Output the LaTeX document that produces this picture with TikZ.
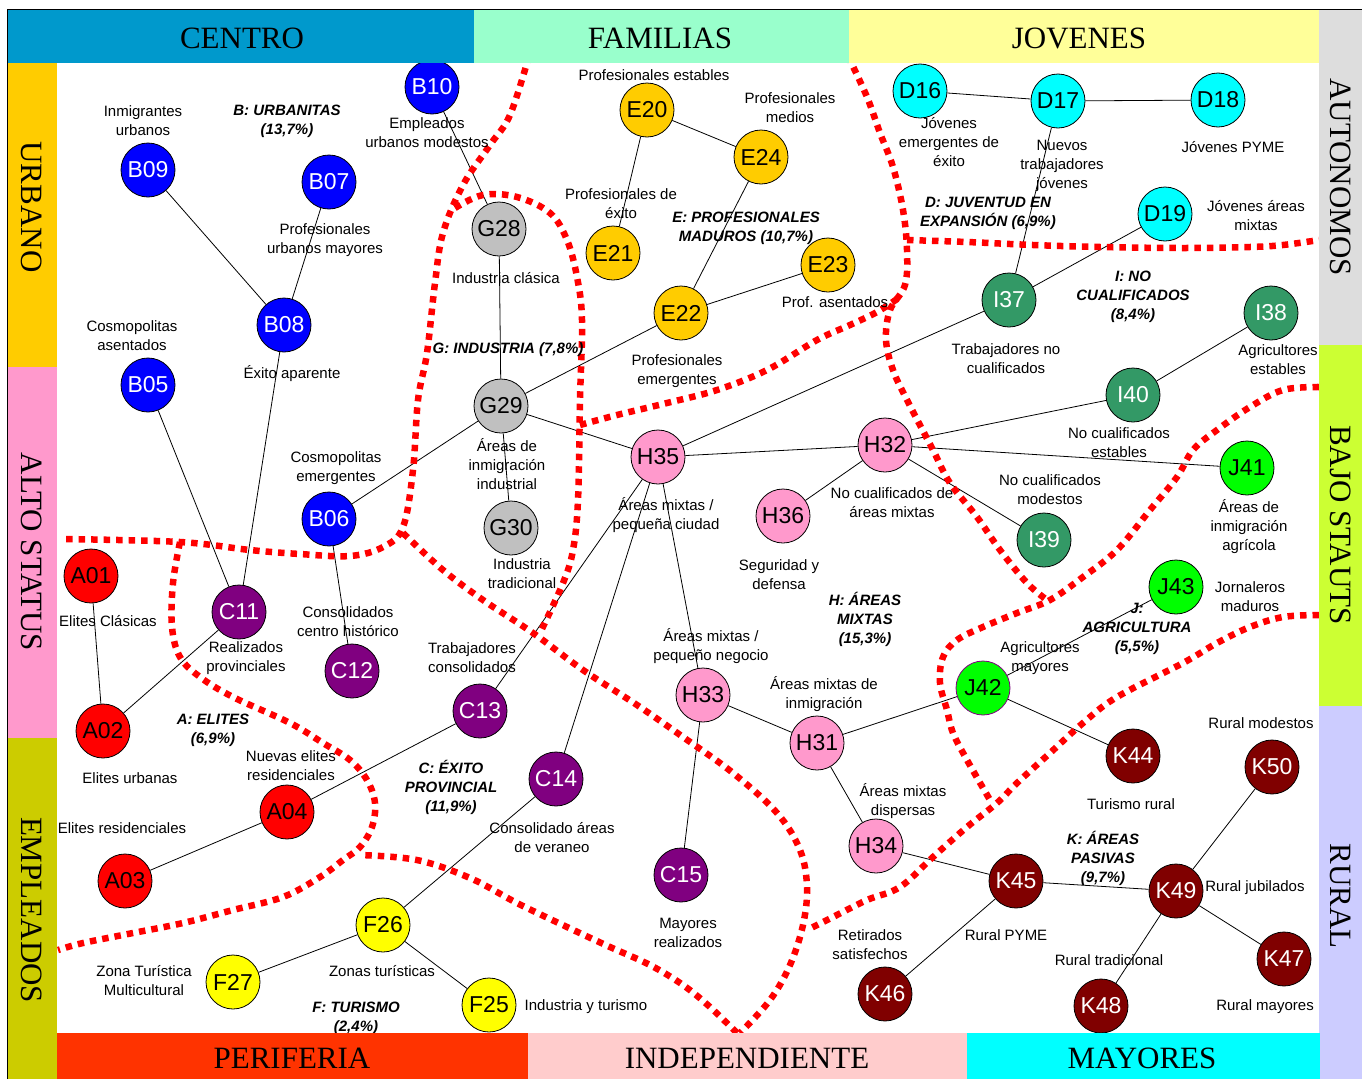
\documentclass[tikz,border=0pt]{standalone}
\usepackage{fontspec}
\setmainfont{Liberation Sans}
\newfontfamily\serifhdr{Liberation Serif}
\definecolor{cCentro}{HTML}{0099CC}
\definecolor{cFam}{HTML}{99FFCC}
\definecolor{cJov}{HTML}{FFFF99}
\definecolor{cAut}{HTML}{DDDDDD}
\definecolor{cBajo}{HTML}{CCFF33}
\definecolor{cRural}{HTML}{CCCCFF}
\definecolor{cUrb}{HTML}{FFCC00}
\definecolor{cAlto}{HTML}{FF99CC}
\definecolor{cEmp}{HTML}{CCCC00}
\definecolor{cPer}{HTML}{FF3300}
\definecolor{cInd}{HTML}{FFCCCC}
\definecolor{cMay}{HTML}{00FFFF}
\definecolor{colB}{HTML}{0000FF}
\definecolor{colG}{HTML}{C0C0C0}
\definecolor{colE}{HTML}{FFCC00}
\definecolor{colD}{HTML}{00FFFF}
\definecolor{colI}{HTML}{339966}
\definecolor{colJ}{HTML}{00FF00}
\definecolor{colH}{HTML}{FF99CC}
\definecolor{colA}{HTML}{FF0000}
\definecolor{colC}{HTML}{800080}
\definecolor{colF}{HTML}{FFFF00}
\definecolor{colK}{HTML}{800000}
\tikzset{
  seg/.style={circle, draw=black, line width=0.8pt, minimum size=54pt, inner sep=0pt, font=\fontsize{23}{23}\selectfont},
  nB/.style={seg, fill=colB, text=white},
  nG/.style={seg, fill=colG, text=black},
  nE/.style={seg, fill=colE, text=black},
  nD/.style={seg, fill=colD, text=black},
  nI/.style={seg, fill=colI, text=white},
  nJ/.style={seg, fill=colJ, text=black},
  nH/.style={seg, fill=colH, text=black},
  nA/.style={seg, fill=colA, text=black},
  nC/.style={seg, fill=colC, text=white},
  nF/.style={seg, fill=colF, text=black},
  nK/.style={seg, fill=colK, text=white},
  lbl/.style={align=center, font=\fontsize{15}{19}\selectfont, inner sep=0pt},
  grp/.style={align=center, font=\fontsize{15}{19}\selectfont\bfseries\itshape, inner sep=0pt},
  hdr/.style={font=\serifhdr\fontsize{31}{31}\selectfont, inner sep=0pt},
  conn/.style={line width=0.8pt},
  redb/.style={red, line width=6.5pt, dash pattern=on 6.5pt off 6pt},
}
\begin{document}
\begin{tikzpicture}[x=1pt, y=-1pt]
\useasboundingbox (0,0) rectangle (1362,1079);
\fill[white] (0,0) rectangle (1362,1079);

% nodes
\node[nB] (B10) at (432,87) {B10};
\node[nB] (B09) at (148,170) {B09};
\node[nB] (B07) at (329,182) {B07};
\node[nB] (B08) at (284,325) {B08};
\node[nB] (B05) at (148,385) {B05};
\node[nB] (B06) at (329,519) {B06};
\node[nG] (G28) at (499,229) {G28};
\node[nG] (G29) at (501,406) {G29};
\node[nG] (G30) at (511,528) {G30};
\node[nE] (E20) at (647,110) {E20};
\node[nE] (E24) at (761,157) {E24};
\node[nE] (E21) at (613,253) {E21};
\node[nE] (E23) at (828,265) {E23};
\node[nE] (E22) at (681,313) {E22};
\node[nD] (D16) at (920,91) {D16};
\node[nD] (D17) at (1058,101) {D17};
\node[nD] (D18) at (1218,100) {D18};
\node[nD] (D19) at (1165,214) {D19};
\node[nI] (I37) at (1009,300) {I37};
\node[nI] (I38) at (1271,313) {I38};
\node[nI] (I40) at (1133,395) {I40};
\node[nI] (I39) at (1044,540) {I39};
\node[nJ] (J41) at (1247,468) {J41};
\node[nJ] (J43) at (1176,587) {J43};
\node[nJ, draw=colC] (J42) at (983,688) {J42};
\node[nH] (H35) at (658,457) {H35};
\node[nH] (H32) at (885,445) {H32};
\node[nH] (H36) at (783,516) {H36};
\node[nH] (H33) at (703,695) {H33};
\node[nH] (H31) at (817,743) {H31};
\node[nH] (H34) at (876,846) {H34};
\node[nA] (A01) at (91,576) {A01};
\node[nA] (A02) at (103,731) {A02};
\node[nA] (A03) at (125,881) {A03};
\node[nA] (A04) at (287,812) {A04};
\node[nC] (C11) at (239,612) {C11};
\node[nC] (C12) at (352,671) {C12};
\node[nC] (C13) at (480,711) {C13};
\node[nC] (C14) at (556,779) {C14};
\node[nC] (C15) at (681,875) {C15};
\node[nF] (F26) at (383,925) {F26};
\node[nF] (F27) at (233,982) {F27};
\node[nF] (F25) at (489,1005) {F25};
\node[nK] (K44) at (1133,756) {K44};
\node[nK] (K50) at (1272,767) {K50};
\node[nK] (K45) at (1016,881) {K45};
\node[nK] (K49) at (1176,891) {K49};
\node[nK] (K47) at (1284,959) {K47};
\node[nK] (K48) at (1101,1006) {K48};
\node[nK] (K46) at (885,994) {K46};

% connectors
\draw[conn] (B10) -- (G28) (B09) -- (B08) (B07) -- (B08) (B08) -- (C11) (B05) -- (C11)
  (B06) -- (G29) (B06) -- (C12) (G28) -- (G29) (G29) -- (G30) (G29) -- (H35) (G29) -- (E22)
  (E20) -- (E24) (E20) -- (E21) (E24) -- (E22) (E22) -- (E23)
  (D16) -- (D17) (D17) -- (D18) (D17) -- (I37) (D19) -- (I37) (H35) -- (I37)
  (I38) -- (I40) (I40) -- (H32) (H32) -- (J41) (H32) -- (I39) (H32) -- (H36) (H35) -- (H32)
  (H35) -- (C13) (H35) -- (C14) (H35) -- (H33) (H33) -- (C15) (H33) -- (H31)
  (H31) -- (J42) (H31) -- (H34) (J42) -- (J43) (J42) -- (K44)
  (H34) -- (K45) (K45) -- (K49) (K45) -- (K46) (K49) -- (K50) (K49) -- (K47) (K49) -- (K48)
  (A01) -- (A02) (A02) -- (C11) (A03) -- (A04) (A04) -- (C13) (C14) -- (F26)
  (F26) -- (F27) (F26) -- (F25);

% red boundaries
\draw[redb] plot[smooth, tension=0.6] coordinates {(529,56) (510,115) (490,145) (463,185) (443,233) (435,283) (427,353) (418,400) (413,470) (403,527) (383,547) (350,556) (300,554) (250,550) (180,542) (63,539)};
\draw[redb] plot[smooth, tension=0.6] coordinates {(403,533) (443,570) (483,600) (533,633) (583,670) (637,705) (683,737) (733,773) (777,813) (800,850) (807,887) (803,925) (790,965) (770,1000) (740,1033)};
\draw[redb] plot[smooth, tension=0.6] coordinates {(737,1033) (710,1007) (683,985) (650,965) (610,947) (567,927) (517,903) (470,878) (417,860) (360,855)};
\draw[redb] plot[smooth, tension=0.6] coordinates {(180,542) (173,583) (172,627) (180,657) (200,677) (233,697) (290,723) (323,743) (350,760) (367,780) (375,803) (372,827) (360,847) (343,860) (320,877) (283,897) (233,910) (183,923) (133,933) (83,943) (58,950)};
\draw[redb] plot[smooth, tension=0.6] coordinates {(455,208) (483,195) (517,197) (550,213) (567,240) (577,277) (582,320) (580,400) (578,500) (573,550) (563,583) (540,633)};
\draw[redb] plot[smooth, tension=0.6] coordinates {(580,425) (617,415) (667,403) (717,390) (767,370) (817,340) (850,325) (877,312) (900,297)};
\draw[redb] plot[smooth, tension=0.6] coordinates {(848,56) (867,97) (880,133) (893,167) (903,210) (907,250) (905,285) (890,310) (886,340) (893,370) (907,400) (933,450) (950,483) (977,517) (1000,550) (1027,583) (1047,600)};
\draw[redb] plot[smooth, tension=0.6] coordinates {(907,240) (967,242) (1033,245) (1100,247) (1183,248) (1250,247) (1283,245) (1319,240)};
\draw[redb] plot[smooth, tension=0.6] coordinates {(1319,387) (1283,390) (1250,407) (1217,430) (1193,450) (1177,477) (1150,510) (1117,550) (1083,577) (1050,600) (1017,613) (983,627) (957,640) (943,657) (940,683) (947,710) (953,733) (967,760) (990,800)};
\draw[redb] plot[smooth, tension=0.6] coordinates {(1319,615) (1283,617) (1250,627) (1217,643) (1183,663) (1117,697) (1083,723) (1050,753) (1017,783) (997,803) (967,827) (933,857) (900,887) (867,900) (833,917) (807,930)};

% labels
\node[lbl] (lB10) at (427,133) {Empleados\\urbanos modestos};
\node[lbl] (lB09) at (143,121) {Inmigrantes\\urbanos};
\node[lbl] (lB07) at (325,240) {Profesionales\\urbanos mayores};
\node[lbl] (lB08) at (292,374) {Éxito aparente};
\node[lbl] (lB05) at (132,336) {Cosmopolitas\\asentados};
\node[lbl] (lB06) at (336,468) {Cosmopolitas\\emergentes};
\node[lbl] (lG28) at (506,278) {Industria clásica};
\node[lbl] (lG29) at (507,464) {Áreas de\\inmigración\\industrial};
\node[lbl] (lG30) at (522,574) {Industria\\tradicional};
\node[lbl] (lE20) at (654,75) {Profesionales estables};
\node[lbl] (lE24) at (790,108) {Profesionales\\medios};
\node[lbl] (lE21) at (621,204) {Profesionales de\\éxito};
\node[lbl] (lE23) at (835,302) {Prof. asentados};
\node[lbl] (lE22) at (677,371) {Profesionales\\emergentes};
\node[lbl] (lD16) at (949,142) {Jóvenes\\emergentes de\\éxito};
\node[lbl] (lD17) at (1062,166) {Nuevos\\trabajadores\\jóvenes};
\node[lbl] (lD18) at (1233,147) {Jóvenes PYME};
\node[lbl] (lD19) at (1256,216) {Jóvenes áreas\\mixtas};
\node[lbl] (lI37) at (1006,359) {Trabajadores no\\cualificados};
\node[lbl] (lI38) at (1278,360) {Agricultores\\estables};
\node[lbl] (lI40) at (1119,443) {No cualificados\\estables};
\node[lbl] (lI39) at (1050,490) {No cualificados\\modestos};
\node[lbl] (lJ41) at (1249,527) {Áreas de\\inmigración\\agrícola};
\node[lbl] (lJ43) at (1250,597) {Jornaleros\\maduros};
\node[lbl] (lJ42) at (1040,658) {Agricultores\\mayores};
\node[lbl] (lH35) at (666,515) {Áreas mixtas /\\pequeña ciudad};
\node[lbl] (lH32) at (892,503) {No cualificados de\\áreas mixtas};
\node[lbl] (lH36) at (779,575) {Seguridad y\\defensa};
\node[lbl] (lH33) at (711,646) {Áreas mixtas /\\pequeño negocio};
\node[lbl] (lH31) at (824,694) {Áreas mixtas de\\inmigración};
\node[lbl] (lH34) at (903,801) {Áreas mixtas\\dispersas};
\node[lbl] (lA01) at (108,621) {Elites Clásicas};
\node[lbl] (lA02) at (130,778) {Elites urbanas};
\node[lbl] (lA03) at (122,828) {Elites residenciales};
\node[lbl] (lA04) at (291,766) {Nuevas elites\\residenciales};
\node[lbl] (lC11) at (246,658) {Realizados\\provinciales};
\node[lbl] (lC12) at (348,622) {Consolidados\\centro histórico};
\node[lbl] (lC13) at (472,658) {Trabajadores\\consolidados};
\node[lbl] (lC14) at (552,838) {Consolidado áreas\\de veraneo};
\node[lbl] (lC15) at (688,933) {Mayores\\realizados};
\node[lbl] (lF26) at (382,971) {Zonas turísticas};
\node[lbl] (lF27) at (144,981) {Zona Turística\\Multicultural};
\node[lbl] (lF25) at (586,1007) {Industria y turismo};
\node[lbl] (lK44) at (1131,804) {Turismo rural};
\node[lbl] (lK50) at (1261,723) {Rural modestos};
\node[lbl] (lK45) at (1006,935) {Rural PYME};
\node[lbl] (lK49) at (1255,888) {Rural jubilados};
\node[lbl] (lK47) at (1265,1007) {Rural mayores};
\node[lbl] (lK48) at (1109,960) {Rural tradicional};
\node[lbl] (lK46) at (870,945) {Retirados\\satisfechos};

% group labels
\node[grp] (gB) at (287,121) {B: URBANITAS\\(13,7\%)};
\node[grp] (gE) at (746,228) {E: PROFESIONALES\\MADUROS (10,7\%)};
\node[grp] (gD) at (988,213) {D: JUVENTUD EN\\EXPANSIÓN (6,9\%)};
\node[grp] (gI) at (1133,297) {I: NO\\CUALIFICADOS\\(8,4\%)};
\node[grp] (gG) at (508,350) {G: INDUSTRIA (7,8\%)};
\node[grp] (gH) at (865,619) {H: ÁREAS\\MIXTAS\\(15,3\%)};
\node[grp] (gJ) at (1137,629) {J:\\AGRICULTURA\\(5,5\%)};
\node[grp] (gA) at (213,730) {A: ELITES\\(6,9\%)};
\node[grp] (gC) at (451,787) {C: ÉXITO\\PROVINCIAL\\(11,9\%)};
\node[grp] (gK) at (1103,858) {K: ÁREAS\\PASIVAS\\(9,7\%)};
\node[grp] (gF) at (356,1018) {F: TURISMO\\(2,4\%)};

% frame bars
\fill[cCentro] (7,9) rectangle (474,63);
\fill[cFam] (474,9) rectangle (849,63);
\fill[cJov] (849,9) rectangle (1319,63);
\fill[cAut] (1319,9) rectangle (1362,345);
\fill[cBajo] (1319,345) rectangle (1362,706);
\fill[cRural] (1319,706) rectangle (1362,1079);
\fill[cUrb] (7,63) rectangle (57,367);
\fill[cAlto] (7,367) rectangle (57,738);
\fill[cEmp] (7,738) rectangle (57,1079);
\fill[cPer] (57,1033) rectangle (528,1079);
\fill[cInd] (528,1033) rectangle (967,1079);
\fill[cMay] (967,1033) rectangle (1320,1079);
\draw[line width=1pt] (7,1079) -- (7,9) -- (1362,9);

\node[hdr] (hC) at (242,38) {CENTRO};
\node[hdr] (hF) at (660,38) {FAMILIAS};
\node[hdr] (hJ) at (1079,38) {JOVENES};
\node[hdr] (hP) at (292,1058) {PERIFERIA};
\node[hdr] (hI) at (747,1058) {INDEPENDIENTE};
\node[hdr] (hM) at (1142,1058) {MAYORES};
\node[hdr, rotate=-90] (hU) at (32,207) {URBANO};
\node[hdr, rotate=-90] (hA) at (32,552) {ALTO STATUS};
\node[hdr, rotate=-90] (hE) at (32,910) {EMPLEADOS};
\node[hdr, rotate=-90] (hAu) at (1341,177) {AUTONOMOS};
\node[hdr, rotate=-90] (hB) at (1341,525) {BAJO STAUTS};
\node[hdr, rotate=-90] (hR) at (1341,896) {RURAL};
\end{tikzpicture}
\end{document}
